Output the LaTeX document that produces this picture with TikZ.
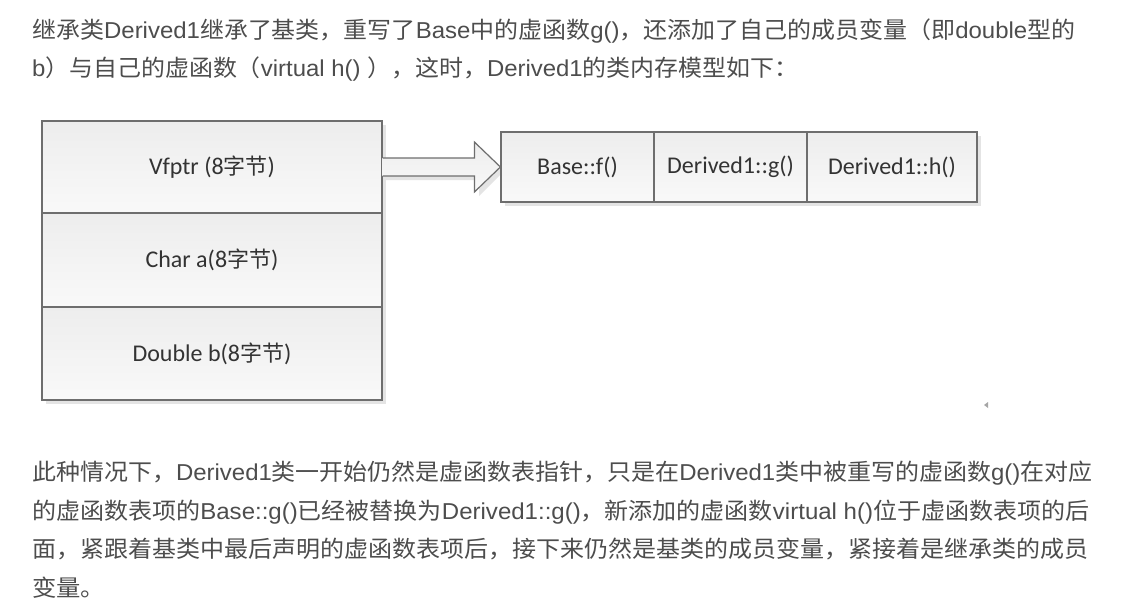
\documentclass[tikz,border=0pt]{standalone}
\usepackage{fontspec}
\usepackage{graphicx}
\usetikzlibrary{calc}
\setmainfont{Noto Sans CJK SC}
\newfontfamily\latnfont{Liberation Sans}
\newfontfamily\calfont{Carlito}
\newfontfamily\cjkfont{Noto Sans CJK SC}
\newcommand\latn[1]{{\latnfont #1}}
\newcommand\zj{{\cjkfont\fontsize{22}{26}\selectfont 字节}}
\definecolor{txt}{HTML}{4D4D4D}
\definecolor{lbl}{HTML}{333333}
\definecolor{bord}{HTML}{6E6E6E}
\definecolor{shd}{HTML}{E4E4E4}
\definecolor{EDEDEDc}{HTML}{EDEDED}
\definecolor{F9F9F9c}{HTML}{F9F9F9}
\tikzset{
  para/.style={anchor=base west, inner sep=0pt, text=txt, font=\fontsize{23}{27}\selectfont},
  cellbox/.style={draw=bord, line width=1.2pt, top color=EDEDEDc, bottom color=F9F9F9c,
    inner sep=0pt, text=lbl, font=\calfont\fontsize{24}{28}\selectfont},
  blockarrow/.style={draw=bord, line width=1.2pt, top color=EDEDEDc, bottom color=F9F9F9c, line join=miter},
  shadowfill/.style={fill=shd}
}
\begin{document}
\begin{tikzpicture}[x=1pt,y=-1pt]
\fill[white] (0,0) rectangle (1131,613);
\useasboundingbox (0,0) rectangle (1131,613);

% paragraph text
\node[para] (p1) at (32,38) {\resizebox{1043pt}{\height}{继承类\latn{Derived1}继承了基类，重写了\latn{Base}中的虚函数\latn{g()}，还添加了自己的成员变量（即\latn{double}型的}};
\node[para] (p2) at (32,76) {\resizebox{766pt}{\height}{\latn{b}）与自己的虚函数（\latn{virtual h() }），这时，\latn{Derived1}的类内存模型如下：}};

\node[para] (q1) at (32,480) {\resizebox{1060pt}{\height}{此种情况下，\latn{Derived1}类一开始仍然是虚函数表指针，只是在\latn{Derived1}类中被重写的虚函数\latn{g()}在对应}};
\node[para] (q2) at (32,519) {\resizebox{1057pt}{\height}{的虚函数表项的\latn{Base::g()}已经被替换为\latn{Derived1::g()}，新添加的虚函数\latn{virtual h()}位于虚函数表项的后}};
\node[para] (q3) at (32,557) {\resizebox{1056pt}{\height}{面，紧跟着基类中最后声明的虚函数表项后，接下来仍然是基类的成员变量，紧接着是继承类的成员}};
\node[para] (q4) at (32,596) {\resizebox{73pt}{\height}{变量。}};

% shadows
\fill[shadowfill] (46,125) rectangle (386,404);
\fill[shadowfill] (505,136) rectangle (981,206);
\fill[shadowfill] (386,162) -- (479,162) -- (479,146) -- (504,171) -- (479,196) -- (479,180) -- (386,180) -- cycle;

% object layout
\node[cellbox, minimum width=340pt, minimum height=92pt] (vfptr) at (212,167) {Vfptr (8\zj)};
\node[cellbox, minimum width=340pt, minimum height=94pt] (chara) at (212,260) {Char a(8\zj)};
\node[cellbox, minimum width=340pt, minimum height=93pt] (dblb) at (212,353.5) {Double b(8\zj)};

% vtable
\node[cellbox, minimum width=153pt, minimum height=70pt] (tA) at (577.5,167) {Base::f()};
\node[cellbox, minimum width=153pt, minimum height=70pt] (tB) at (730.5,167) {Derived1::g()};
\node[cellbox, minimum width=170pt, minimum height=70pt] (tC) at (892,167) {Derived1::h()};

% block arrow
\path[blockarrow] ($(vfptr.east)+(0,-9)$) -- ($(tA.west)+(-26,-9)$) -- ($(tA.west)+(-26,-25)$)
  -- (tA.west) -- ($(tA.west)+(-26,25)$) -- ($(tA.west)+(-26,9)$) -- ($(vfptr.east)+(0,9)$);

% small mark
\fill[gray!70] (984,405) -- (988,402) -- (988,408) -- cycle;
\end{tikzpicture}
\end{document}
